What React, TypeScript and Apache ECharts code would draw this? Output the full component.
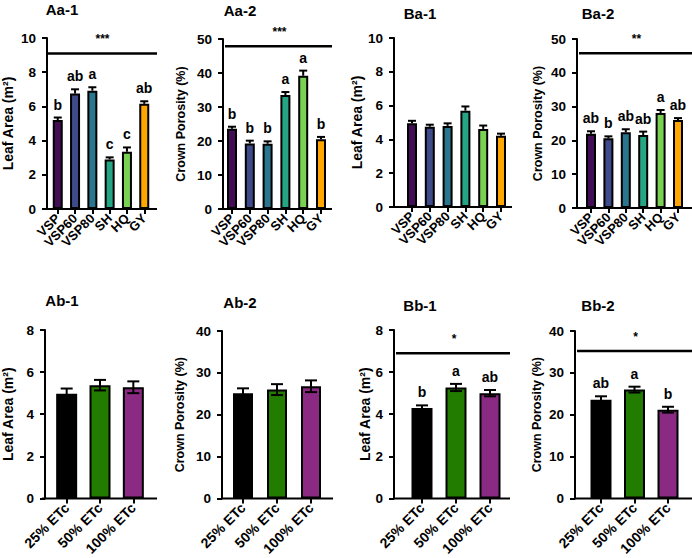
import React, { useEffect, useRef } from "react";
import * as echarts from "echarts";

const FONT = "'Liberation Sans', Arial, Helvetica, sans-serif";

// ---- categories ----
const cultivars = ["VSP", "VSP60", "VSP80", "SH", "HQ", "GY"];
const irrigation = ["25% ETc", "50% ETc", "100% ETc"];
const cultivarColors = ["#420d55", "#3e4a8a", "#2a768e", "#25a584", "#78d152", "#ffa600"];
const irrigationColors = ["#000000", "#227c00", "#8b2a82"];

// ---- Aa-1 Leaf area by cultivar (A) ----
const aa1Mean = [5.2, 6.75, 6.92, 2.9, 3.35, 6.15];
const aa1Err = [0.15, 0.25, 0.2, 0.12, 0.25, 0.15];
const aa1Letters = ["b", "ab", "a", "c", "c", "ab"];
const aa1Sig = { y: 9.1, stars: "***" };

// ---- Aa-2 Crown porosity by cultivar (A) ----
const aa2Mean = [23.6, 19.3, 19.2, 33.5, 39.2, 20.5];
const aa2Err = [0.6, 0.8, 0.7, 0.9, 1.5, 0.7];
const aa2Letters = ["b", "b", "b", "a", "a", "b"];
const aa2Sig = { y: 47.9, stars: "***" };

// ---- Ba-1 Leaf area by cultivar (B) ----
const ba1Mean = [4.95, 4.75, 4.8, 5.7, 4.62, 4.22];
const ba1Err = [0.15, 0.12, 0.15, 0.25, 0.2, 0.12];
const ba1Letters = ["", "", "", "", "", ""];

// ---- Ba-2 Crown porosity by cultivar (B) ----
const ba2Mean = [22.0, 20.6, 22.4, 21.6, 28.1, 26.0];
const ba2Err = [0.7, 0.6, 0.9, 1.0, 0.9, 0.6];
const ba2Letters = ["ab", "b", "ab", "ab", "a", "ab"];
const ba2Sig = { y: 45.8, stars: "**" };

// ---- Ab-1 Leaf area by irrigation (A) ----
const ab1Mean = [4.97, 5.38, 5.28];
const ab1Err = [0.25, 0.25, 0.28];
const ab1Letters = ["", "", ""];

// ---- Ab-2 Crown porosity by irrigation (A) ----
const ab2Mean = [25.1, 26.0, 26.8];
const ab2Err = [1.2, 1.3, 1.4];
const ab2Letters = ["", "", ""];

// ---- Bb-1 Leaf area by irrigation (B) ----
const bb1Mean = [4.3, 5.27, 5.0];
const bb1Err = [0.12, 0.17, 0.15];
const bb1Letters = ["b", "a", "ab"];
const bb1Sig = { y: 6.9, stars: "*" };

// ---- Bb-2 Crown porosity by irrigation (B) ----
const bb2Mean = [23.6, 26.0, 21.2];
const bb2Err = [0.8, 0.7, 0.7];
const bb2Letters = ["ab", "a", "b"];
const bb2Sig = { y: 35.2, stars: "*" };

const leafName = "Leaf Area (m²)";
const poroName = "Crown Porosity (%)";

type Panel = {
  title: string;
  cats: string[];
  colors: string[];
  mean: number[];
  err: number[];
  letters: string[];
  sig: { y: number; stars: string } | null;
  yMax: number;
  yInt: number;
  yName: string;
  nameSize: number;
  // layout
  y0: number; c1: number; s: number; xe: number; top: number; bottom: number;
  tx: number; ty: number; nameGap: number; barW: number; capW: number; both: boolean; xFont: number;
};

const panels: Panel[] = [
  { title: "Aa-1", cats: cultivars, colors: cultivarColors, mean: aa1Mean, err: aa1Err, letters: aa1Letters, sig: aa1Sig,
    yMax: 10, yInt: 2, yName: leafName, nameSize: 14,
    y0: 44, c1: 55, s: 17.8, xe: 157, top: 38, bottom: 209, tx: 62, ty: 9, nameGap: 32, barW: 10, capW: 8, both: false, xFont: 13 },
  { title: "Aa-2", cats: cultivars, colors: cultivarColors, mean: aa2Mean, err: aa2Err, letters: aa2Letters, sig: aa2Sig,
    yMax: 50, yInt: 10, yName: poroName, nameSize: 12.5,
    y0: 223, c1: 232, s: 17.8, xe: 332, top: 39, bottom: 209, tx: 240, ty: 10, nameGap: 36, barW: 10, capW: 8, both: false, xFont: 13 },
  { title: "Ba-1", cats: cultivars, colors: cultivarColors, mean: ba1Mean, err: ba1Err, letters: ba1Letters, sig: null,
    yMax: 10, yInt: 2, yName: leafName, nameSize: 14,
    y0: 394, c1: 412, s: 17.8, xe: 512, top: 38, bottom: 207, tx: 420, ty: 13, nameGap: 28, barW: 10, capW: 8, both: false, xFont: 13 },
  { title: "Ba-2", cats: cultivars, colors: cultivarColors, mean: ba2Mean, err: ba2Err, letters: ba2Letters, sig: ba2Sig,
    yMax: 50, yInt: 10, yName: poroName, nameSize: 12.5,
    y0: 577, c1: 591, s: 17.4, xe: 692, top: 39, bottom: 208, tx: 598, ty: 13, nameGap: 33, barW: 10, capW: 8, both: false, xFont: 13 },
  { title: "Ab-1", cats: irrigation, colors: irrigationColors, mean: ab1Mean, err: ab1Err, letters: ab1Letters, sig: null,
    yMax: 8, yInt: 2, yName: leafName, nameSize: 14,
    y0: 43, c1: 65, s: 34, xe: 157, top: 330, bottom: 499, tx: 62, ty: 300, nameGap: 30, barW: 21, capW: 12, both: true, xFont: 14 },
  { title: "Ab-2", cats: irrigation, colors: irrigationColors, mean: ab2Mean, err: ab2Err, letters: ab2Letters, sig: null,
    yMax: 40, yInt: 10, yName: poroName, nameSize: 12.5,
    y0: 222, c1: 243, s: 34, xe: 333, top: 331, bottom: 500, tx: 240, ty: 302, nameGap: 36, barW: 20, capW: 12, both: true, xFont: 14 },
  { title: "Bb-1", cats: irrigation, colors: irrigationColors, mean: bb1Mean, err: bb1Err, letters: bb1Letters, sig: bb1Sig,
    yMax: 8, yInt: 2, yName: leafName, nameSize: 14,
    y0: 394, c1: 422, s: 34, xe: 510, top: 330, bottom: 499, tx: 420, ty: 305, nameGap: 19, barW: 21, capW: 12, both: true, xFont: 14 },
  { title: "Bb-2", cats: irrigation, colors: irrigationColors, mean: bb2Mean, err: bb2Err, letters: bb2Letters, sig: bb2Sig,
    yMax: 40, yInt: 10, yName: poroName, nameSize: 12.5,
    y0: 575, c1: 601, s: 33.5, xe: 692, top: 331, bottom: 499, tx: 598, ty: 305, nameGap: 32, barW: 21, capW: 12, both: true, xFont: 14 },
];

export default function App() {
  const ref = useRef<HTMLDivElement>(null);

  useEffect(() => {
    document.body.style.margin = "0";
    const chart = echarts.init(ref.current!, undefined, { renderer: "svg" });

    const grids: any[] = [];
    const xAxes: any[] = [];
    const yAxes: any[] = [];
    const series: any[] = [];

    panels.forEach((p, i) => {
      const n = p.cats.length;
      const left = p.c1 - p.s / 2;
      grids.push({ left, top: p.top, width: n * p.s, height: p.bottom - p.top, containLabel: false });
      xAxes.push({
        type: "category",
        gridIndex: i,
        data: p.cats,
        axisLine: { show: false },
        axisTick: { show: true, alignWithLabel: true, length: 5, lineStyle: { color: "#000", width: 2 } },
        axisLabel: {
          rotate: 45, interval: 0, margin: 7, color: "#000",
          fontWeight: "bold", fontSize: p.xFont, fontFamily: FONT,
        },
        splitLine: { show: false },
      });
      yAxes.push({
        type: "value",
        gridIndex: i,
        min: 0,
        max: p.yMax,
        interval: p.yInt,
        offset: left - p.y0,
        name: p.yName,
        nameLocation: "middle",
        nameGap: p.nameGap,
        nameTextStyle: { color: "#000", fontWeight: "bold", fontSize: p.nameSize, fontFamily: FONT },
        axisLine: { show: true, lineStyle: { color: "#000", width: 2 } },
        axisTick: { show: true, length: 5, lineStyle: { color: "#000", width: 2 } },
        axisLabel: { color: "#000", fontWeight: "bold", fontSize: 13.5, fontFamily: FONT, margin: 11 },
        splitLine: { show: false },
      });
      series.push({
        type: "bar",
        xAxisIndex: i,
        yAxisIndex: i,
        barWidth: p.barW,
        data: p.mean.map((v, j) => ({ value: v, itemStyle: { color: p.colors[j] } })),
        itemStyle: { borderColor: "#000", borderWidth: 2 },
        z: 2,
      });
      series.push({
        type: "custom",
        xAxisIndex: i,
        yAxisIndex: i,
        z: 5,
        data: p.mean.map((v, j) => [j, v, p.err[j]]),
        renderItem: (params: any, api: any) => {
          const j = api.value(0);
          const v = api.value(1);
          const e = api.value(2);
          const top = api.coord([j, v + e]);
          const bot = api.coord([j, p.both ? v - e : v]);
          const x = top[0];
          const h = p.capW / 2;
          const st = { stroke: "#000", lineWidth: 2 };
          const children: any[] = [
            { type: "line", shape: { x1: x, y1: bot[1], x2: x, y2: top[1] }, style: st },
            { type: "line", shape: { x1: x - h, y1: top[1], x2: x + h, y2: top[1] }, style: st },
          ];
          if (p.both) {
            children.push({ type: "line", shape: { x1: x - h, y1: bot[1], x2: x + h, y2: bot[1] }, style: st });
          }
          const letter = p.letters[params.dataIndex];
          if (letter) {
            children.push({
              type: "text",
              style: {
                text: letter, x, y: top[1] - 6,
                align: "center", verticalAlign: "bottom",
                textAlign: "center", textVerticalAlign: "bottom",
                fontSize: 14, fontWeight: "bold", fontFamily: FONT, fill: "#000",
              },
            });
          }
          return { type: "group", children };
        },
      });
    });

    chart.setOption({
      animation: false,
      backgroundColor: "#ffffff",
      grid: grids,
      xAxis: xAxes,
      yAxis: yAxes,
      series,
    });

    const graphic: any[] = [];
    panels.forEach((p, i) => {
      const yZero = chart.convertToPixel({ yAxisIndex: i }, 0) as number;
      graphic.push({
        type: "line",
        shape: { x1: p.y0 - 1, y1: yZero, x2: p.xe, y2: yZero },
        style: { stroke: "#000", lineWidth: 2 },
        z: 10,
      });
      graphic.push({
        type: "text",
        x: p.tx,
        y: p.ty,
        style: {
          text: p.title, align: "center", verticalAlign: "middle",
          textAlign: "center", textVerticalAlign: "middle",
          fontSize: 15, fontWeight: "bold", fontFamily: FONT, fill: "#000",
        },
      });
      if (p.sig) {
        const ys = chart.convertToPixel({ yAxisIndex: i }, p.sig.y) as number;
        graphic.push({
          type: "line",
          shape: { x1: p.y0 + 2, y1: ys, x2: p.xe, y2: ys },
          style: { stroke: "#000", lineWidth: 2.5 },
        });
        graphic.push({
          type: "text",
          x: (p.y0 + p.xe) / 2 + 2,
          y: ys - 14,
          style: {
            text: p.sig.stars, align: "center", verticalAlign: "middle",
            textAlign: "center", textVerticalAlign: "middle",
            fontSize: 12, fontWeight: "bold", fontFamily: FONT, fill: "#000",
          },
        });
      }
    });
    chart.setOption({ graphic });

    return () => chart.dispose();
  }, []);

  return <div ref={ref} style={{ width: 692, height: 558 }} />;
}
